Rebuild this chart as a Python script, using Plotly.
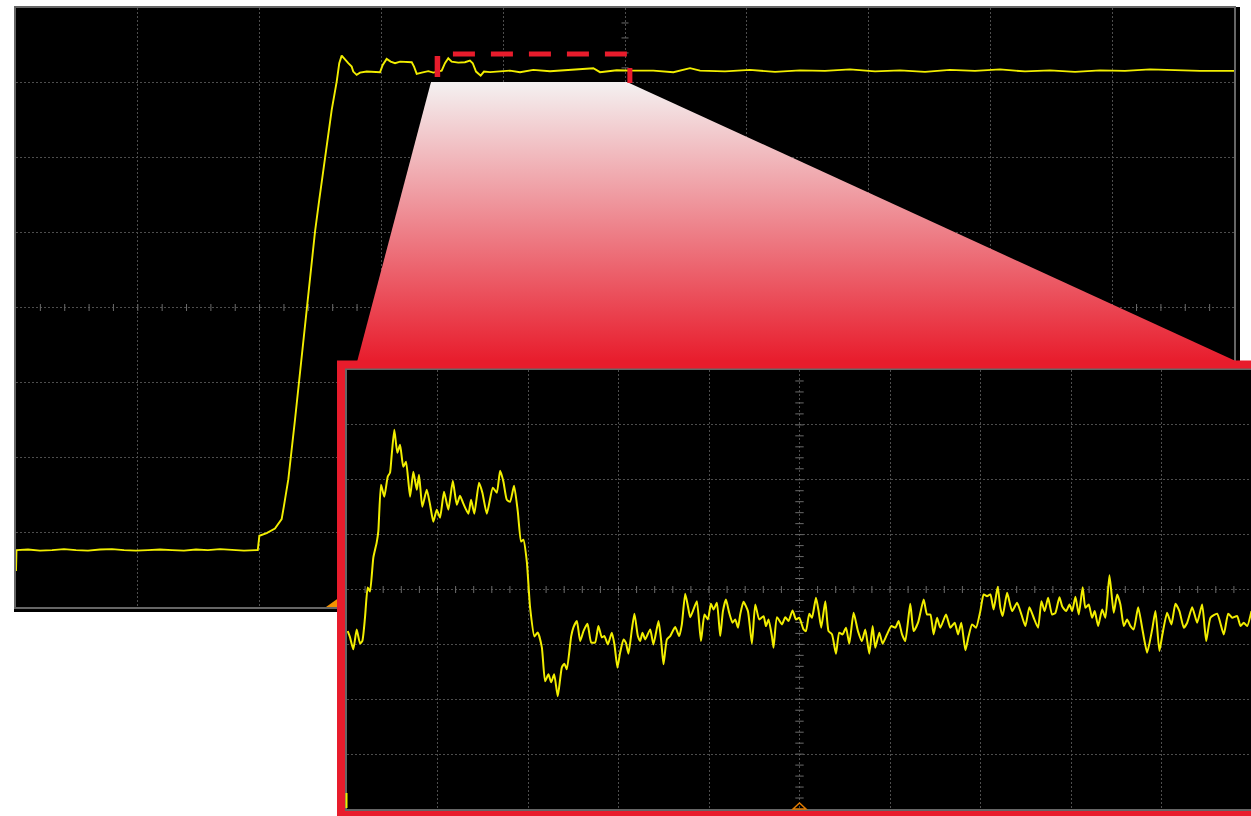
import plotly.graph_objects as go

# ---------------- data (time and voltage in screen divisions) ----------------
main_t = [0.000, 0.004, 0.099, 0.197, 0.296, 0.394, 0.493, 0.591, 0.690, 0.788,
          0.887, 0.985, 1.084, 1.182, 1.281, 1.379, 1.478, 1.576, 1.675, 1.773,
          1.872, 1.970, 1.985, 1.998, 2.058, 2.126, 2.181, 2.200, 2.222, 2.236,
          2.291, 2.348, 2.406, 2.455, 2.490, 2.537, 2.592, 2.633, 2.654, 2.674,
          2.701, 2.728, 2.756, 2.769, 2.797, 2.824, 2.879, 2.933, 2.989, 3.011,
          3.043, 3.076, 3.112, 3.153, 3.194, 3.249, 3.268, 3.290, 3.331, 3.385,
          3.426, 3.459, 3.495, 3.522, 3.549, 3.577, 3.631, 3.686, 3.727, 3.750,
          3.777, 3.815, 3.842, 3.892, 3.974, 4.056, 4.138, 4.247, 4.384, 4.521,
          4.631, 4.740, 4.795, 4.932, 5.068, 5.232, 5.397, 5.534, 5.616, 5.821,
          6.026, 6.232, 6.437, 6.642, 6.847, 7.053, 7.258, 7.463, 7.668, 7.874,
          8.079, 8.284, 8.489, 8.695, 8.900, 9.105, 9.310, 9.516, 9.721, 10.0]
main_v = [-3.520, -3.240, -3.233, -3.247, -3.240, -3.227, -3.240, -3.247, -3.233, -3.227,
          -3.240, -3.247, -3.240, -3.233, -3.240, -3.247, -3.233, -3.240, -3.227, -3.240,
          -3.247, -3.240, -3.240, -3.049, -3.013, -2.951, -2.827, -2.649, -2.427, -2.293,
          -1.493, -0.627, 0.213, 1.013, 1.440, 2.017, 2.640, 3.017, 3.263, 3.364,
          3.307, 3.263, 3.217, 3.151, 3.107, 3.137, 3.151, 3.151, 3.143, 3.240,
          3.320, 3.284, 3.263, 3.284, 3.284, 3.276, 3.217, 3.120, 3.137, 3.156,
          3.137, 3.151, 3.164, 3.263, 3.329, 3.284, 3.271, 3.276, 3.297, 3.263,
          3.151, 3.097, 3.151, 3.143, 3.151, 3.164, 3.143, 3.173, 3.156, 3.173,
          3.187, 3.196, 3.143, 3.169, 3.164, 3.164, 3.143, 3.196, 3.164, 3.153,
          3.173, 3.147, 3.167, 3.160, 3.180, 3.153, 3.167, 3.147, 3.173, 3.160,
          3.180, 3.153, 3.167, 3.147, 3.167, 3.160, 3.180, 3.167, 3.160, 3.160]

zoom_t = [0.008, 0.033, 0.070, 0.107, 0.144, 0.169, 0.199, 0.229, 0.254, 0.291,
          0.328, 0.346, 0.376, 0.412, 0.450, 0.475, 0.494, 0.523, 0.556, 0.586,
          0.622, 0.652, 0.697, 0.733, 0.771, 0.796, 0.832, 0.881, 0.918, 0.954,
          0.992, 1.028, 1.072, 1.120, 1.169, 1.213, 1.249, 1.286, 1.341, 1.371,
          1.407, 1.459, 1.496, 1.545, 1.611, 1.655, 1.692, 1.728, 1.766, 1.802,
          1.846, 1.887, 1.924, 1.949, 1.987, 2.023, 2.071, 2.108, 2.153, 2.189,
          2.226, 2.256, 2.289, 2.329, 2.374, 2.402, 2.429, 2.477, 2.502, 2.540,
          2.576, 2.613, 2.657, 2.698, 2.742, 2.778, 2.816, 2.845, 2.882, 2.926,
          2.955, 2.988, 3.018, 3.055, 3.081, 3.110, 3.148, 3.176, 3.214, 3.239,
          3.265, 3.295, 3.350, 3.386, 3.442, 3.472, 3.497, 3.535, 3.571, 3.626,
          3.671, 3.700, 3.737, 3.767, 3.792, 3.829, 3.866, 3.911, 3.950, 3.988,
          4.021, 4.050, 4.087, 4.124, 4.154, 4.187, 4.223, 4.260, 4.290, 4.320,
          4.345, 4.381, 4.430, 4.474, 4.511, 4.555, 4.603, 4.629, 4.658, 4.695,
          4.713, 4.751, 4.806, 4.843, 4.879, 4.923, 4.961, 4.997, 5.045, 5.071,
          5.108, 5.138, 5.182, 5.211, 5.240, 5.285, 5.321, 5.359, 5.403, 5.439,
          5.476, 5.514, 5.550, 5.598, 5.646, 5.690, 5.727, 5.771, 5.808, 5.837,
          5.882, 5.918, 5.967, 6.014, 6.059, 6.095, 6.133, 6.169, 6.224, 6.261,
          6.310, 6.372, 6.409, 6.446, 6.482, 6.520, 6.556, 6.619, 6.667, 6.715,
          6.752, 6.788, 6.833, 6.869, 6.907, 6.951, 6.998, 7.035, 7.072, 7.109,
          7.145, 7.190, 7.219, 7.245, 7.294, 7.349, 7.404, 7.452, 7.496, 7.540,
          7.588, 7.636, 7.673, 7.709, 7.747, 7.791, 7.828, 7.872, 7.902, 7.946,
          7.983, 8.013, 8.049, 8.086, 8.129, 8.159, 8.196, 8.233, 8.262, 8.300,
          8.344, 8.380, 8.425, 8.472, 8.510, 8.546, 8.583, 8.620, 8.657, 8.693,
          8.742, 8.786, 8.841, 8.897, 8.933, 8.977, 9.007, 9.062, 9.110, 9.154,
          9.198, 9.246, 9.284, 9.339, 9.394, 9.449, 9.494, 9.541, 9.615, 9.688,
          9.737, 9.781, 9.836, 9.873, 9.909, 9.947, 9.994]
zoom_v = [-0.758, -0.870, -1.091, -0.727, -0.982, -0.940, -0.509, 0.036, -0.036, 0.582,
          0.855, 1.060, 1.909, 1.691, 2.055, 2.127, 2.455, 2.909, 2.491, 2.636,
          2.236, 2.327, 1.691, 2.145, 1.818, 2.091, 1.509, 1.818, 1.545, 1.236,
          1.455, 1.309, 1.782, 1.455, 1.982, 1.545, 1.709, 1.564, 1.382, 1.636,
          1.382, 1.945, 1.764, 1.382, 1.855, 1.764, 2.164, 1.970, 1.636, 1.600,
          1.891, 1.424, 0.873, 0.909, 0.509, -0.327, -0.855, -0.782, -1.055, -1.673,
          -1.545, -1.691, -1.545, -1.945, -1.418, -1.351, -1.455, -0.855, -0.691, -0.576,
          -0.940, -0.758, -0.624, -0.964, -0.964, -0.667, -0.873, -0.849, -1.000, -0.787,
          -1.000, -1.424, -1.151, -0.909, -0.969, -1.169, -0.727, -0.442, -0.849, -0.940,
          -0.787, -0.909, -0.727, -1.000, -0.576, -0.940, -1.364, -0.909, -0.849, -0.685,
          -0.849, -0.636, -0.078, -0.304, -0.504, -0.364, -0.213, -0.940, -0.455, -0.545,
          -0.260, -0.364, -0.242, -0.849, -0.394, -0.182, -0.424, -0.605, -0.545, -0.696,
          -0.455, -0.224, -0.394, -0.987, -0.273, -0.545, -0.485, -0.667, -0.545, -0.849,
          -1.060, -0.504, -0.636, -0.504, -0.576, -0.382, -0.545, -0.515, -0.727, -0.758,
          -0.442, -0.515, -0.151, -0.394, -0.696, -0.213, -0.758, -0.818, -1.169, -0.787,
          -0.818, -0.696, -0.987, -0.424, -0.758, -0.940, -0.727, -1.169, -0.667, -1.060,
          -0.787, -0.987, -0.818, -0.667, -0.696, -0.576, -0.818, -0.940, -0.260, -0.758,
          -0.605, -0.182, -0.455, -0.455, -0.818, -0.515, -0.696, -0.455, -0.696, -0.605,
          -0.818, -0.605, -1.109, -0.849, -0.636, -0.696, -0.394, -0.091, -0.122, -0.091,
          -0.364, 0.049, -0.333, -0.485, -0.060, -0.394, -0.242, -0.455, -0.667, -0.322,
          -0.515, -0.696, -0.213, -0.394, -0.151, -0.455, -0.424, -0.140, -0.304, -0.394,
          -0.273, -0.394, -0.133, -0.455, 0.042, -0.333, -0.273, -0.515, -0.394, -0.667,
          -0.364, -0.515, 0.260, -0.424, -0.091, -0.273, -0.667, -0.545, -0.667, -0.727,
          -0.322, -0.696, -1.151, -0.727, -0.394, -1.122, -0.849, -0.424, -0.636, -0.260,
          -0.394, -0.696, -0.605, -0.322, -0.605, -0.273, -0.940, -0.515, -0.442, -0.818,
          -0.442, -0.515, -0.485, -0.667, -0.605, -0.667, -0.394]

# zoom window on the main time axis (divisions)
zoom_start, zoom_end = 3.46, 5.04

# ---------------- layout geometry (page pixels) ----------------
W, H = 1251, 816
MX0, MX1, MY0, MY1 = 16, 1234, 8, 607        # main plot area (px)
IX0, IY0, IY1 = 347, 370, 809                # inset plot area (px)
IDIV = 90.5                                  # inset px per division

YELLOW = "#f2ee00"
RED = "#e81c2c"
GRID = "#4d4d4d"
FRAME = "#666666"


def PX(x):
    return x / W


def PY(y):
    return 1 - y / H


def P(x, y):
    return PX(x), PY(y)


def m_px(t):
    return MX0 + (MX1 - MX0) * t / 10.0


def px_to_t(x):
    return (x - MX0) * 10.0 / (MX1 - MX0)


def py_to_v(y):
    return 4 - (y - MY0) * 8.0 / (MY1 - MY0)


fig = go.Figure()

# centre graticule ticks (main)
tk = [i / 5 for i in range(1, 50)]
tv = [-4 + i / 5 for i in range(1, 40)]
fig.add_trace(go.Scatter(x=tk, y=[0] * len(tk), mode="markers", xaxis="x", yaxis="y",
                         marker=dict(symbol="line-ns", size=5, line=dict(color="#6a6a6a", width=1)),
                         hoverinfo="skip", showlegend=False))
fig.add_trace(go.Scatter(x=[5] * len(tv), y=tv, mode="markers", xaxis="x", yaxis="y",
                         marker=dict(symbol="line-ew", size=5, line=dict(color="#6a6a6a", width=1)),
                         hoverinfo="skip", showlegend=False))

# gradient funnel from the zoom window to the inset
trap_x = [px_to_t(431), px_to_t(627), px_to_t(1238), px_to_t(357), px_to_t(431)]
trap_y = [py_to_v(82), py_to_v(82), py_to_v(362), py_to_v(362), py_to_v(82)]
fig.add_trace(go.Scatter(x=trap_x, y=trap_y, mode="lines", fill="toself", xaxis="x", yaxis="y",
                         line=dict(width=0, color="rgba(0,0,0,0)"),
                         fillgradient=dict(type="vertical",
                                           colorscale=[[0, RED], [1, "#f4f1f1"]]),
                         hoverinfo="skip", showlegend=False))

# main waveform
fig.add_trace(go.Scatter(x=main_t, y=main_v, mode="lines", xaxis="x", yaxis="y",
                         line=dict(color=YELLOW, width=1.9), hoverinfo="skip", showlegend=False))

# inset centre ticks
ik = [i / 5 for i in range(1, 50)]
fig.add_trace(go.Scatter(x=ik, y=[0] * len(ik), mode="markers", xaxis="x2", yaxis="y2",
                         marker=dict(symbol="line-ns", size=5, line=dict(color="#6a6a6a", width=1)),
                         hoverinfo="skip", showlegend=False))
fig.add_trace(go.Scatter(x=[5] * len(tv), y=tv, mode="markers", xaxis="x2", yaxis="y2",
                         marker=dict(symbol="line-ew", size=6, line=dict(color="#6a6a6a", width=1)),
                         hoverinfo="skip", showlegend=False))

# zoomed waveform
fig.add_trace(go.Scatter(x=zoom_t, y=zoom_v, mode="lines", xaxis="x2", yaxis="y2",
                         line=dict(color=YELLOW, width=2, shape="spline", smoothing=0.5),
                         hoverinfo="skip", showlegend=False))

axis_common = dict(showticklabels=False, ticks="", zeroline=False, showgrid=True,
                   gridcolor=GRID, griddash="2px,2px", gridwidth=1, dtick=1, tick0=0,
                   fixedrange=True, showline=True, linecolor=FRAME, linewidth=2)

fig.update_layout(
    width=W, height=H, margin=dict(l=0, r=0, t=0, b=0),
    paper_bgcolor="white", plot_bgcolor="black", showlegend=False,
    xaxis=dict(domain=[PX(MX0), PX(MX1)], range=[0, 10], anchor="y", mirror=True, **axis_common),
    yaxis=dict(domain=[PY(MY1), PY(MY0)], range=[-4, 4], anchor="x", mirror=True, **axis_common),
    xaxis2=dict(domain=[PX(IX0), 1.0], range=[0, (W - IX0) / IDIV], anchor="y2", mirror=True, **axis_common),
    yaxis2=dict(domain=[PY(IY1), PY(IY0)], range=[-4, 4], anchor="x2", mirror=False, **axis_common),
)

shapes = []
# black bezel round the main screen
x0, y0 = P(14, 7)
x1, y1 = P(1240, 612)
shapes.append(dict(type="rect", xref="paper", yref="paper", x0=x0, y0=y1, x1=x1, y1=y0,
                   fillcolor="black", line=dict(width=0), layer="below"))
# trigger marker (main)
a = P(326, 607); b = P(340, 597); c = P(354, 607)
shapes.append(dict(type="path", xref="paper", yref="paper", layer="below",
                   path=f"M {a[0]},{a[1]} L {b[0]},{b[1]} L {c[0]},{c[1]} Z",
                   fillcolor="#f39200", line=dict(width=0)))
# inset red frame
x0, y0 = P(341, 364.5)
x1, y1 = P(1262, 815)
shapes.append(dict(type="rect", xref="paper", yref="paper", x0=x0, y0=y1, x1=x1, y1=y0,
                   line=dict(color=RED, width=8), fillcolor="rgba(0,0,0,0)", layer="above"))
# zoom window markers
lx = m_px(zoom_start); rx = m_px(zoom_end)
for (cx, ya, yb, w) in [(lx, 56, 77, 5.5), (rx, 68, 83, 5)]:
    x0, y0 = P(cx - w / 2, ya)
    x1, y1 = P(cx + w / 2, yb)
    shapes.append(dict(type="rect", xref="paper", yref="paper", x0=x0, y0=y1, x1=x1, y1=y0,
                       fillcolor=RED, line=dict(width=0), layer="above"))
x0, yy = P(lx + 15.5, 54)
x1, _ = P(rx - 3, 54)
shapes.append(dict(type="line", xref="paper", yref="paper", x0=x0, y0=yy, x1=x1, y1=yy,
                   line=dict(color=RED, width=5, dash="22px,16px"), layer="above"))
# trigger marker (inset, hollow)
a = P(793, 809); b = P(799.5, 803); c = P(806, 809)
shapes.append(dict(type="path", xref="paper", yref="paper", layer="above",
                   path=f"M {a[0]},{a[1]} L {b[0]},{b[1]} L {c[0]},{c[1]} Z",
                   fillcolor="rgba(0,0,0,0)", line=dict(color="#e07a00", width=1.5)))
# inset channel start mark
x0, y0 = P(346.5, 793)
_, y1 = P(346.5, 808)
shapes.append(dict(type="line", xref="paper", yref="paper", x0=x0, y0=y0, x1=x0, y1=y1,
                   line=dict(color=YELLOW, width=2), layer="above"))

fig.update_layout(shapes=shapes)
fig.write_html(
    "out.html",
    config={"displayModeBar": False, "staticPlot": True},
    post_script="document.body.style.margin='0';document.body.style.overflow='hidden';",
)
